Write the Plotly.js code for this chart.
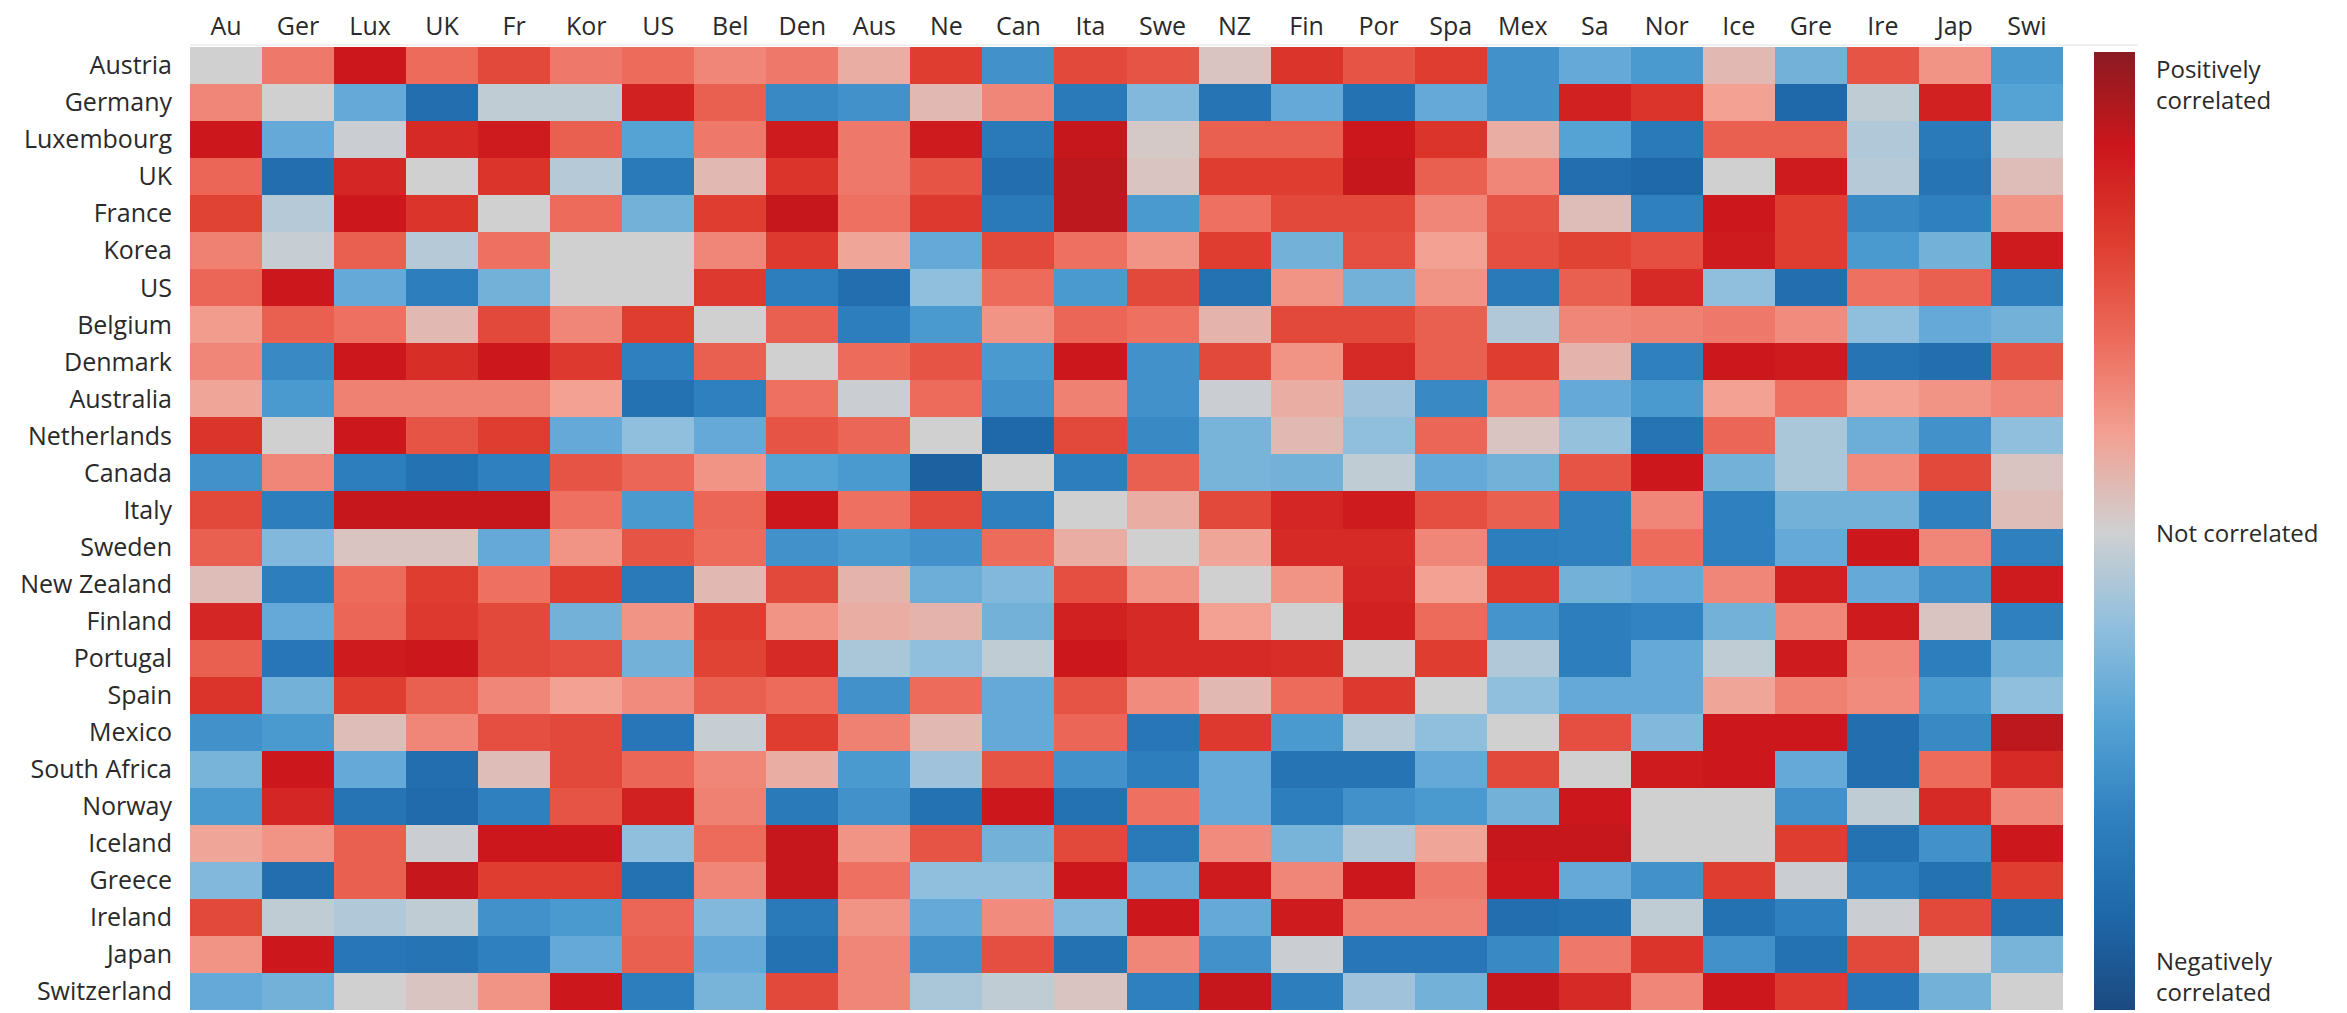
<!DOCTYPE html>
<html>
<head>
<meta charset="utf-8">
<script src="https://cdn.plot.ly/plotly-3.0.1.min.js"></script>
<style>
  html, body { margin: 0; padding: 0; background: #ffffff; }
  #chart { width: 2347px; height: 1013px; }
</style>
</head>
<body>
<div id="chart"></div>
<script>
// Row labels (countries) and column labels (abbreviations)
const countries = ["Austria", "Germany", "Luxembourg", "UK", "France", "Korea", "US", "Belgium",
  "Denmark", "Australia", "Netherlands", "Canada", "Italy", "Sweden", "New Zealand", "Finland",
  "Portugal", "Spain", "Mexico", "South Africa", "Norway", "Iceland", "Greece", "Ireland", "Japan",
  "Switzerland"];
const abbrevs = ["Au", "Ger", "Lux", "UK", "Fr", "Kor", "US", "Bel", "Den", "Aus", "Ne", "Can", "Ita",
  "Swe", "NZ", "Fin", "Por", "Spa", "Mex", "Sa", "Nor", "Ice", "Gre", "Ire", "Jap", "Swi"];

// Correlation coefficients, one row per country, columns in the order of abbrevs
const austria     = [0, 0.35, 0.8, 0.4, 0.55, 0.35, 0.4, 0.3, 0.35, 0.15, 0.6, -0.5, 0.55, 0.5, 0.05, 0.65, 0.5, 0.6, -0.5, -0.35, -0.45, 0.1, -0.3, 0.5, 0.25, -0.45];
const germany     = [0.3, 0, -0.35, -0.75, -0.05, -0.05, 0.75, 0.45, -0.55, -0.5, 0.1, 0.3, -0.65, -0.25, -0.7, -0.35, -0.72, -0.35, -0.5, 0.75, 0.65, 0.2, -0.8, -0.05, 0.75, -0.4];
const luxembourg  = [0.8, -0.35, -0.02, 0.7, 0.78, 0.45, -0.4, 0.35, 0.78, 0.35, 0.78, -0.65, 0.82, 0.03, 0.45, 0.45, 0.8, 0.65, 0.15, -0.4, -0.65, 0.45, 0.45, -0.1, -0.65, 0];
const uk          = [0.42, -0.75, 0.72, 0, 0.65, -0.08, -0.65, 0.1, 0.65, 0.35, 0.5, -0.75, 0.85, 0.05, 0.6, 0.6, 0.82, 0.45, 0.3, -0.75, -0.8, 0, 0.78, -0.08, -0.7, 0.08];
const france      = [0.58, -0.08, 0.8, 0.65, 0, 0.4, -0.3, 0.6, 0.82, 0.38, 0.62, -0.65, 0.85, -0.45, 0.38, 0.55, 0.55, 0.3, 0.5, 0.08, -0.6, 0.8, 0.6, -0.55, -0.6, 0.25];
const korea       = [0.32, -0.03, 0.45, -0.08, 0.38, 0, 0, 0.3, 0.62, 0.18, -0.35, 0.55, 0.38, 0.25, 0.6, -0.3, 0.52, 0.2, 0.52, 0.58, 0.52, 0.78, 0.6, -0.45, -0.3, 0.78];
const us          = [0.42, 0.8, -0.35, -0.62, -0.3, 0, 0, 0.62, -0.62, -0.75, -0.2, 0.4, -0.45, 0.55, -0.72, 0.25, -0.3, 0.25, -0.65, 0.45, 0.7, -0.2, -0.75, 0.38, 0.45, -0.62];
const belgium     = [0.22, 0.45, 0.38, 0.1, 0.55, 0.3, 0.6, 0, 0.45, -0.62, -0.45, 0.25, 0.42, 0.38, 0.12, 0.55, 0.55, 0.45, -0.1, 0.3, 0.32, 0.35, 0.28, -0.2, -0.35, -0.3];
const denmark     = [0.3, -0.55, 0.8, 0.68, 0.8, 0.62, -0.6, 0.45, 0, 0.4, 0.5, -0.45, 0.8, -0.5, 0.55, 0.25, 0.7, 0.45, 0.6, 0.12, -0.6, 0.8, 0.78, -0.7, -0.75, 0.5];
const australia   = [0.18, -0.45, 0.32, 0.32, 0.32, 0.2, -0.72, -0.6, 0.38, -0.02, 0.4, -0.5, 0.32, -0.5, -0.02, 0.15, -0.15, -0.55, 0.3, -0.35, -0.45, 0.2, 0.38, 0.2, 0.25, 0.3];
const netherlands = [0.65, 0, 0.8, 0.5, 0.6, -0.35, -0.2, -0.35, 0.5, 0.42, 0, -0.8, 0.55, -0.55, -0.28, 0.1, -0.2, 0.42, 0.05, -0.18, -0.7, 0.42, -0.12, -0.32, -0.5, -0.2];
const canada      = [-0.5, 0.3, -0.62, -0.72, -0.6, 0.5, 0.42, 0.25, -0.4, -0.45, -0.85, 0, -0.62, 0.45, -0.28, -0.3, -0.05, -0.35, -0.3, 0.5, 0.8, -0.3, -0.12, 0.28, 0.55, 0.05];
const italy       = [0.55, -0.62, 0.82, 0.82, 0.82, 0.38, -0.45, 0.42, 0.8, 0.38, 0.55, -0.6, 0, 0.15, 0.55, 0.72, 0.78, 0.52, 0.45, -0.6, 0.3, -0.6, -0.3, -0.3, -0.6, 0.08];
const sweden      = [0.45, -0.25, 0.05, 0.05, -0.35, 0.25, 0.5, 0.4, -0.5, -0.45, -0.5, 0.4, 0.15, 0, 0.18, 0.7, 0.7, 0.3, -0.62, -0.6, 0.4, -0.6, -0.35, 0.8, 0.3, -0.6];
const newZealand  = [0.08, -0.62, 0.4, 0.6, 0.38, 0.6, -0.65, 0.1, 0.55, 0.12, -0.32, -0.25, 0.52, 0.25, 0, 0.25, 0.72, 0.2, 0.62, -0.3, -0.35, 0.3, 0.75, -0.35, -0.5, 0.78];
const finland     = [0.72, -0.35, 0.42, 0.62, 0.55, -0.3, 0.25, 0.6, 0.25, 0.15, 0.12, -0.3, 0.75, 0.7, 0.2, 0, 0.75, 0.4, -0.48, -0.62, -0.58, -0.3, 0.3, 0.78, 0.05, -0.6];
const portugal    = [0.45, -0.68, 0.78, 0.8, 0.55, 0.52, -0.3, 0.58, 0.7, -0.12, -0.2, -0.05, 0.8, 0.7, 0.7, 0.68, 0, 0.6, -0.1, -0.62, -0.35, -0.05, 0.78, 0.3, -0.62, -0.3];
const spain       = [0.65, -0.3, 0.6, 0.45, 0.3, 0.2, 0.28, 0.45, 0.4, -0.5, 0.4, -0.35, 0.5, 0.28, 0.1, 0.4, 0.62, 0, -0.2, -0.35, -0.35, 0.18, 0.32, 0.28, -0.45, -0.2];
const mexico      = [-0.5, -0.45, 0.08, 0.3, 0.52, 0.55, -0.68, -0.03, 0.6, 0.32, 0.1, -0.35, 0.42, -0.68, 0.62, -0.45, -0.08, -0.2, 0, 0.52, -0.25, 0.8, 0.8, -0.75, -0.55, 0.85];
const southAfrica = [-0.28, 0.8, -0.35, -0.75, 0.08, 0.55, 0.42, 0.3, 0.15, -0.45, -0.15, 0.5, -0.5, -0.62, -0.35, -0.7, -0.7, -0.35, 0.55, 0, 0.78, 0.8, -0.35, -0.75, 0.4, 0.7];
const norway      = [-0.45, 0.72, -0.7, -0.78, -0.6, 0.5, 0.75, 0.32, -0.65, -0.5, -0.72, 0.8, -0.72, 0.38, -0.35, -0.62, -0.5, -0.45, -0.3, 0.8, 0, 0, -0.5, -0.05, 0.7, 0.3];
const iceland     = [0.18, 0.25, 0.45, -0.02, 0.8, 0.8, -0.2, 0.4, 0.82, 0.25, 0.5, -0.3, 0.55, -0.65, 0.28, -0.28, -0.1, 0.18, 0.82, 0.82, 0, 0, 0.6, -0.72, -0.5, 0.8];
const greece      = [-0.25, -0.75, 0.45, 0.82, 0.6, 0.6, -0.72, 0.3, 0.82, 0.38, -0.2, -0.2, 0.8, -0.35, 0.78, 0.3, 0.8, 0.35, 0.8, -0.35, -0.5, 0.6, -0.02, -0.6, -0.72, 0.6];
const ireland     = [0.55, -0.05, -0.1, -0.05, -0.5, -0.45, 0.42, -0.25, -0.65, 0.25, -0.35, 0.28, -0.25, 0.8, -0.35, 0.78, 0.32, 0.32, -0.75, -0.72, -0.05, -0.72, -0.6, -0.02, 0.55, -0.72];
const japan       = [0.25, 0.8, -0.68, -0.7, -0.6, -0.35, 0.45, -0.35, -0.72, 0.3, -0.5, 0.52, -0.72, 0.3, -0.5, -0.02, -0.68, -0.68, -0.55, 0.35, 0.65, -0.5, -0.72, 0.55, 0, -0.28];
const switzerland = [-0.35, -0.3, 0, 0.05, 0.25, 0.8, -0.62, -0.28, 0.55, 0.3, -0.12, -0.05, 0.05, -0.6, 0.82, -0.62, -0.15, -0.3, 0.82, 0.7, 0.3, 0.8, 0.62, -0.68, -0.3, 0];

const corr = [austria, germany, luxembourg, uk, france, korea, us, belgium, denmark, australia,
  netherlands, canada, italy, sweden, newZealand, finland, portugal, spain, mexico, southAfrica,
  norway, iceland, greece, ireland, japan, switzerland];

// Diverging blue - grey - red scale
const blueGreyRed = [
  [0.0, '#1b4a80'],
  [0.1, '#1f68aa'],
  [0.2, '#2e80bf'],
  [0.3, '#55a2d4'],
  [0.4, '#90bfde'],
  [0.5, '#d0d0d1'],
  [0.6, '#f2a193'],
  [0.7, '#ec6b5b'],
  [0.8, '#df3d30'],
  [0.9, '#cc171c'],
  [1.0, '#8c1a22']
];

const textColor = '#2a2a2a';
const fontFamily = '"Open Sans", "Noto Sans", sans-serif';

const trace = {
  type: 'heatmap',
  z: corr,
  x: abbrevs,
  y: countries,
  zmin: -1,
  zmax: 1,
  colorscale: blueGreyRed,
  xgap: 0,
  ygap: 0,
  hoverongaps: false,
  colorbar: {
    x: 1.0166,
    xanchor: 'left',
    xref: 'paper',
    y: 0.0,
    yanchor: 'bottom',
    len: 0.995,
    lenmode: 'fraction',
    thickness: 41,
    thicknessmode: 'pixels',
    xpad: 0,
    ypad: 0,
    outlinewidth: 0,
    showticklabels: false,
    ticks: ''
  }
};

const layout = {
  width: 2347,
  height: 1013,
  margin: { l: 190, r: 284, t: 47, b: 3, pad: 0 },
  paper_bgcolor: '#ffffff',
  plot_bgcolor: '#ffffff',
  font: { family: fontFamily, size: 25, color: textColor },
  xaxis: {
    side: 'top',
    type: 'category',
    showgrid: false,
    zeroline: false,
    showline: false,
    ticks: '',
    ticklabelstandoff: 6,
    tickfont: { family: fontFamily, size: 25, color: textColor },
    fixedrange: true
  },
  yaxis: {
    type: 'category',
    autorange: 'reversed',
    showgrid: false,
    zeroline: false,
    showline: false,
    ticks: '',
    ticklabelstandoff: 17,
    tickfont: { family: fontFamily, size: 25, color: textColor },
    fixedrange: true
  },
  shapes: [
    {
      type: 'line', xref: 'paper', yref: 'paper',
      x0: 0, x1: 1.04, y0: 1.002, y1: 1.002,
      line: { color: '#e2e2e2', width: 1 }
    }
  ],
  annotations: [
    {
      text: 'Positively<br>correlated',
      xref: 'paper', yref: 'paper',
      x: 1.0486, y: 0.997,
      xanchor: 'left', yanchor: 'top', align: 'left',
      showarrow: false,
      font: { family: fontFamily, size: 24, color: textColor }
    },
    {
      text: 'Not correlated',
      xref: 'paper', yref: 'paper',
      x: 1.0486, y: 0.496,
      xanchor: 'left', yanchor: 'middle', align: 'left',
      showarrow: false,
      font: { family: fontFamily, size: 24, color: textColor }
    },
    {
      text: 'Negatively<br>correlated',
      xref: 'paper', yref: 'paper',
      x: 1.0486, y: 0.0,
      xanchor: 'left', yanchor: 'bottom', align: 'left',
      showarrow: false,
      font: { family: fontFamily, size: 24, color: textColor }
    }
  ]
};

Plotly.newPlot('chart', [trace], layout, { displayModeBar: false, staticPlot: true });
</script>
</body>
</html>
